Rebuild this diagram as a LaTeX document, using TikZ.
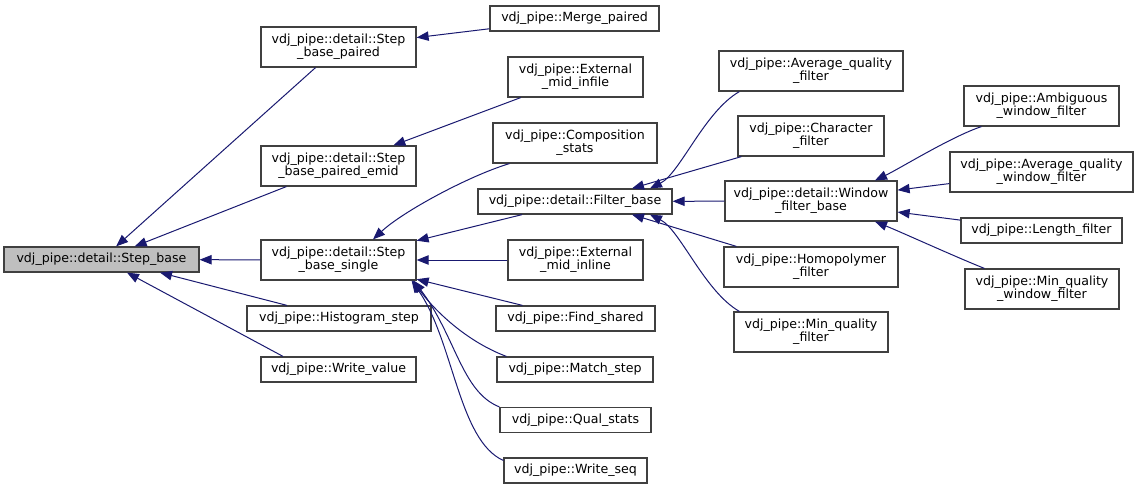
\documentclass[tikz,border=0pt]{standalone}
\usepackage{fontspec}
\setmainfont{DejaVu Sans}
\usepackage{tikz}
\usetikzlibrary{arrows.meta,calc}
\definecolor{edgeblue}{HTML}{191970}
\definecolor{basegray}{HTML}{BFBFBF}
\definecolor{boxline}{HTML}{404040}

\begin{document}
\begin{tikzpicture}[x=0.75pt, y=-0.75pt,
        cls/.style={draw=boxline, line width=0.9pt, fill=white, inner sep=0pt, align=center,
            minimum height=18.75pt, font={\fontsize{9.45}{10}\selectfont}},
        two/.style={minimum height=30pt},
        wd/.style={minimum width=#1*0.75pt},
        inh/.style={draw=edgeblue, line width=0.75pt, -{Triangle[length=9pt, width=7pt]}}]
        \useasboundingbox (0,0) rectangle (1139,489);

        \node[cls, wd=195, fill=basegray] (stepbase) at (101.5,259.5) {vdj\_pipe::detail::Step\_base};

        \node[cls, two, wd=155] (sbpaired) at (338.5,47) {vdj\_pipe::detail::Step\\\_base\_paired};
        \node[cls, two, wd=155] (sbemid) at (338.5,166) {vdj\_pipe::detail::Step\\\_base\_paired\_emid};
        \node[cls, two, wd=155] (sbsingle) at (338.5,260) {vdj\_pipe::detail::Step\\\_base\_single};
        \node[cls, wd=184] (histstep) at (339,318.5) {vdj\_pipe::Histogram\_step};
        \node[cls, wd=155] (writevalue) at (338.5,369.5) {vdj\_pipe::Write\_value};

        \node[cls, wd=169] (mergepaired) at (574.5,18.5) {vdj\_pipe::Merge\_paired};
        \node[cls, two, wd=135] (midinfile) at (575.5,77) {vdj\_pipe::External\\\_mid\_infile};
        \node[cls, two, wd=164] (compstats) at (575,143) {vdj\_pipe::Composition\\\_stats};
        \node[cls, wd=194] (filterbase) at (575,201.5) {vdj\_pipe::detail::Filter\_base};
        \node[cls, two, wd=135] (midinline) at (575.5,260) {vdj\_pipe::External\\\_mid\_inline};
        \node[cls, wd=159] (findshared) at (575.5,318.5) {vdj\_pipe::Find\_shared};
        \node[cls, wd=156] (matchstep) at (575,369.5) {vdj\_pipe::Match\_step};
        \node[cls, wd=151] (qualstats) at (575.5,420) {vdj\_pipe::Qual\_stats};
        \node[cls, wd=143] (writeseq) at (575.5,470.5) {vdj\_pipe::Write\_seq};

        \node[cls, two, wd=184] (avgqual) at (811,71) {vdj\_pipe::Average\_quality\\\_filter};
        \node[cls, two, wd=146] (charfilter) at (811,136) {vdj\_pipe::Character\\\_filter};
        \node[cls, two, wd=172] (windowbase) at (811,201) {vdj\_pipe::detail::Window\\\_filter\_base};
        \node[cls, two, wd=174] (homopoly) at (811,267) {vdj\_pipe::Homopolymer\\\_filter};
        \node[cls, two, wd=154] (minqual) at (811,332) {vdj\_pipe::Min\_quality\\\_filter};

        \node[cls, two, wd=155] (ambigwin) at (1041.5,106) {vdj\_pipe::Ambiguous\\\_window\_filter};
        \node[cls, two, wd=183] (avgqualwin) at (1041.5,172) {vdj\_pipe::Average\_quality\\\_window\_filter};
        \node[cls, wd=161] (lengthfilter) at (1041.5,230.5) {vdj\_pipe::Length\_filter};
        \node[cls, two, wd=154] (minqualwin) at (1042,289) {vdj\_pipe::Min\_quality\\\_window\_filter};

        \draw[inh] (sbpaired) -- (stepbase);
        \draw[inh] (sbemid) -- (stepbase);
        \draw[inh] (sbsingle) -- (stepbase);
        \draw[inh] ($(histstep.north)+(-52,0)$) -- ($(stepbase.south)+(58.5,0)$);
        \draw[inh] ($(writevalue.north)+(-55.5,0)$) -- ($(stepbase.south)+(25.5,0)$);

        \draw[inh] (mergepaired) -- (sbpaired);
        \draw[inh] (midinfile) -- (sbemid);

        \draw[inh] ($(compstats.south west)+(17,0)$) .. controls +(-40,12) and +(30,-28) .. ($(sbsingle.north)+(34.5,0)$);
        \draw[inh] (filterbase) -- (sbsingle);
        \draw[inh] (midinline) -- (sbsingle);
        \draw[inh] (findshared) -- (sbsingle);
        \draw[inh] ($(matchstep.north west)+(10,0)$) .. controls +(-40,-15) and +(22,30) .. ($(sbsingle.south east)+(-4,0)$);
        \draw[inh] (qualstats.north west) .. controls +(-38,-15) and +(42,55) .. ($(sbsingle.south east)+(-3,0)$);
        \draw[inh] ($(writeseq.west)+(0,-10)$) .. controls +(-45,-20) and +(42,60) .. ($(sbsingle.south east)+(-5,0)$);

        \draw[inh] ($(avgqual.south west)+(21,0)$) .. controls +(-35,20) and +(30,-15) .. ($(filterbase.north)+(75,0)$);
        \draw[inh] ($(charfilter.south west)+(4,0)$) -- ($(filterbase.north)+(57,0)$);
        \draw[inh] (windowbase) -- (filterbase);
        \draw[inh] ($(homopoly.north west)+(13,0)$) -- ($(filterbase.south)+(57,0)$);
        \draw[inh] ($(minqual.north west)+(6,0)$) .. controls +(-35,-20) and +(30,15) .. ($(filterbase.south)+(75,0)$);

        \draw[inh] ($(ambigwin.south west)+(18,0)$) .. controls +(-30,10) and +(25,-12) .. ($(windowbase.north)+(64,0)$);
        \draw[inh] (avgqualwin) -- (windowbase);
        \draw[inh] (lengthfilter) -- (windowbase);
        \draw[inh] ($(minqualwin.north west)+(20,0)$) .. controls +(-30,-12) and +(25,10) .. ($(windowbase.south)+(64,0)$);
    \end{tikzpicture}
\end{document}
